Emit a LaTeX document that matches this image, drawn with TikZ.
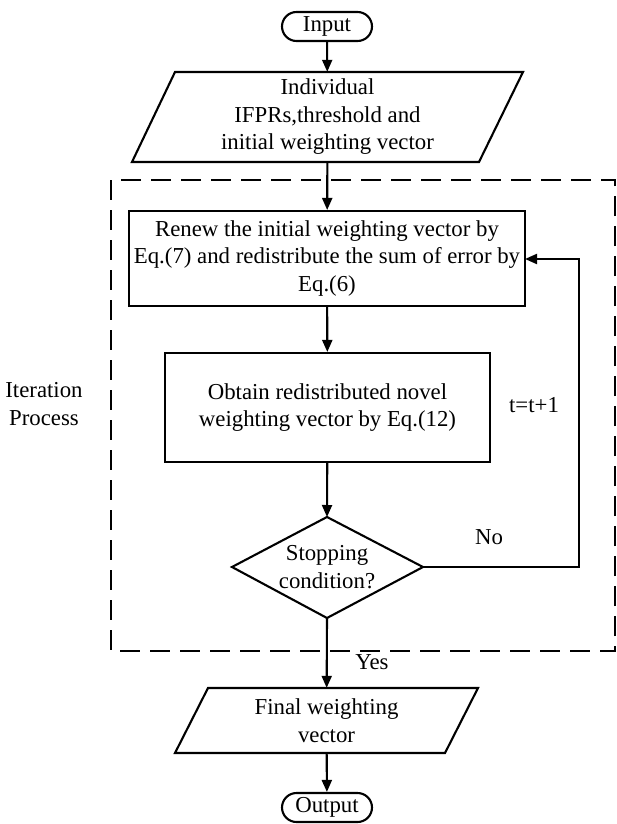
\documentclass[tikz,border=0pt]{standalone}
\usepackage{fontspec}
\setmainfont{Liberation Serif}
\usetikzlibrary{arrows.meta,shapes.misc}
\begin{document}
\begin{tikzpicture}[x=1pt,y=-1pt,
  every node/.style={font=\fontsize{22.8}{27.5}\selectfont, align=center, inner sep=0pt},
  shapeline/.style={line width=2.1pt, line join=miter},
  term/.style={draw, rounded rectangle, line width=2.1pt, minimum width=90pt, minimum height=29pt},
  boxnode/.style={draw, line width=2.1pt},
  flow/.style={line width=2.1pt, -{Triangle[length=12pt,width=10pt]}},
  dashbox/.style={line width=2.1pt, dash pattern=on 20pt off 10pt}
]
\useasboundingbox (0,0) rectangle (617,824);

% dashed box
\draw[dashbox] (111,180) rectangle (615,651);
\node (iter) at (44,404) {Iteration\\Process};

% input
\node[term] (in) at (327,26.5) {Input};

% parallelogram 1
\draw[shapeline] (175,72) -- (523,72) -- (479,162) -- (132,162) -- cycle;
\node[minimum width=300pt, minimum height=90pt] (p1) at (327.5,117) {Individual\\IFPRs,threshold and\\initial weighting vector};

% rect 1
\node[boxnode, minimum width=396pt, minimum height=95pt] (r1) at (327,258.5) {Renew the initial weighting vector by\\Eq.(7) and redistribute the sum of error by\\Eq.(6)};

% rect 2
\node[boxnode, minimum width=325pt, minimum height=109pt] (r2) at (327.5,407.5) {Obtain redistributed novel\\weighting vector by Eq.(12)};

% diamond
\draw[shapeline] (327,517) -- (423,567) -- (327,618) -- (232,567) -- cycle;
\node[minimum width=191pt, minimum height=101pt] (d) at (327,567) {Stopping\\condition?};
\coordinate (dr) at (423,567);
\coordinate (corner1) at (579,567);
\coordinate (corner2) at (579,259);
\coordinate (r1e) at (525,259);

% parallelogram 2
\draw[shapeline] (208,688) -- (478,688) -- (445,753) -- (175,753) -- cycle;
\node[minimum width=240pt, minimum height=65pt] (p2) at (326.5,720.5) {Final weighting\\vector};

% output
\node[term] (out) at (327,807.5) {Output};

% connectors
\draw[flow] (in) -- (p1);
\draw[flow] (p1) -- (r1);
\draw[flow] (r1) -- (r2);
\draw[flow] (r2) -- (327,517);
\draw[flow] (d.south) -- (p2);
\draw[flow] (p2) -- (out);
\draw[flow] (dr) -- (corner1) -- (corner2) -- (r1e);

% labels
\node (tt) at (534,405) {t=t+1};
\node (no) at (489,537) {No};
\node (yes) at (372,662) {Yes};
\end{tikzpicture}
\end{document}
